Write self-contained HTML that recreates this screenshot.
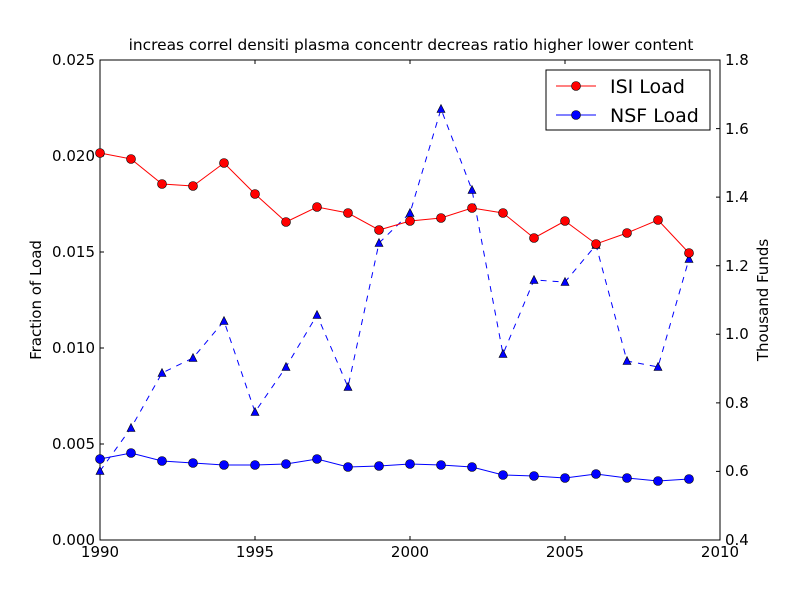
<!DOCTYPE html>
<html><head><meta charset="utf-8"><style>body{margin:0;background:#fff}svg{display:block}text{font-family:"DejaVu Sans","Liberation Sans",sans-serif}</style></head><body>
<svg width="800" height="600" xmlns="http://www.w3.org/2000/svg">
<rect width="800" height="600" fill="#fff"/>
<text x="411" y="50" font-size="15.4" text-anchor="middle">increas correl densiti plasma concentr decreas ratio higher lower content</text>
<g stroke="#000" stroke-width="1">
<rect x="100" y="60" width="620" height="480" fill="none"/>
<path d="M255,540v-4M410,540v-4M565,540v-4M255,60v4M410,60v4M565,60v4"/>
<path d="M100,444h4M100,348h4M100,252h4M100,156h4"/>
<path d="M720,471.4h-4M720,402.9h-4M720,334.3h-4M720,265.7h-4M720,197.1h-4M720,128.6h-4"/>
</g>
<g font-size="15" text-anchor="middle">
<text x="100" y="557">1990</text><text x="255" y="557">1995</text><text x="410" y="557">2000</text><text x="565" y="557">2005</text><text x="720" y="557">2010</text>
</g>
<g font-size="15" text-anchor="end">
<text x="95" y="545">0.000</text><text x="95" y="449">0.005</text><text x="95" y="353">0.010</text><text x="95" y="257">0.015</text><text x="95" y="161">0.020</text><text x="95" y="65">0.025</text>
</g>
<g font-size="15" text-anchor="start">
<text x="725" y="545">0.4</text><text x="725" y="476">0.6</text><text x="725" y="408">0.8</text><text x="725" y="339">1.0</text><text x="725" y="271">1.2</text><text x="725" y="202">1.4</text><text x="725" y="134">1.6</text><text x="725" y="65">1.8</text>
</g>
<text transform="translate(41,300) rotate(-90)" font-size="15" text-anchor="middle">Fraction of Load</text>
<text transform="translate(768,300) rotate(-90)" font-size="15" text-anchor="middle">Thousand Funds</text>

<polyline points="100,471 131,428 162,373 193,358 224,321 255,412 286,367 317,315 348,387 379,243 410,213 441,109 472,190 503,354 534,280 565,282 596,245 627,361 658,367 689,259" fill="none" stroke="blue" stroke-dasharray="6,6"/>
<polyline points="100,153 131,159 162,184 193,186 224,163 255,194 286,222 317,207 348,213 379,230 410,221 441,218 472,208 503,213 534,238 565,221 596,244 627,233 658,220 689,253" fill="none" stroke="red"/>
<polyline points="100,459 131,453 162,461 193,463 224,465 255,465 286,464 317,459 348,467 379,466 410,464 441,465 472,467 503,475 534,476 565,478 596,474 627,478 658,481 689,479" fill="none" stroke="blue"/>

<g fill="blue" stroke="#000" stroke-width="0.6">
<path d="M100,466.5l-4,8h8z"/><path d="M131,423.5l-4,8h8z"/><path d="M162,368.5l-4,8h8z"/><path d="M193,353.5l-4,8h8z"/><path d="M224,316.5l-4,8h8z"/><path d="M255,407.5l-4,8h8z"/><path d="M286,362.5l-4,8h8z"/><path d="M317,310.5l-4,8h8z"/><path d="M348,382.5l-4,8h8z"/><path d="M379,238.5l-4,8h8z"/><path d="M410,208.5l-4,8h8z"/><path d="M441,104.5l-4,8h8z"/><path d="M472,185.5l-4,8h8z"/><path d="M503,349.5l-4,8h8z"/><path d="M534,275.5l-4,8h8z"/><path d="M565,277.5l-4,8h8z"/><path d="M596,240.5l-4,8h8z"/><path d="M627,356.5l-4,8h8z"/><path d="M658,362.5l-4,8h8z"/><path d="M689,254.5l-4,8h8z"/>
</g>
<g fill="red" stroke="#000" stroke-width="0.6">
<circle cx="100" cy="153" r="4.5"/><circle cx="131" cy="159" r="4.5"/><circle cx="162" cy="184" r="4.5"/><circle cx="193" cy="186" r="4.5"/><circle cx="224" cy="163" r="4.5"/><circle cx="255" cy="194" r="4.5"/><circle cx="286" cy="222" r="4.5"/><circle cx="317" cy="207" r="4.5"/><circle cx="348" cy="213" r="4.5"/><circle cx="379" cy="230" r="4.5"/><circle cx="410" cy="221" r="4.5"/><circle cx="441" cy="218" r="4.5"/><circle cx="472" cy="208" r="4.5"/><circle cx="503" cy="213" r="4.5"/><circle cx="534" cy="238" r="4.5"/><circle cx="565" cy="221" r="4.5"/><circle cx="596" cy="244" r="4.5"/><circle cx="627" cy="233" r="4.5"/><circle cx="658" cy="220" r="4.5"/><circle cx="689" cy="253" r="4.5"/>
</g>
<g fill="blue" stroke="#000" stroke-width="0.6">
<circle cx="100" cy="459" r="4.5"/><circle cx="131" cy="453" r="4.5"/><circle cx="162" cy="461" r="4.5"/><circle cx="193" cy="463" r="4.5"/><circle cx="224" cy="465" r="4.5"/><circle cx="255" cy="465" r="4.5"/><circle cx="286" cy="464" r="4.5"/><circle cx="317" cy="459" r="4.5"/><circle cx="348" cy="467" r="4.5"/><circle cx="379" cy="466" r="4.5"/><circle cx="410" cy="464" r="4.5"/><circle cx="441" cy="465" r="4.5"/><circle cx="472" cy="467" r="4.5"/><circle cx="503" cy="475" r="4.5"/><circle cx="534" cy="476" r="4.5"/><circle cx="565" cy="478" r="4.5"/><circle cx="596" cy="474" r="4.5"/><circle cx="627" cy="478" r="4.5"/><circle cx="658" cy="481" r="4.5"/><circle cx="689" cy="479" r="4.5"/>
</g>

<rect x="546" y="70" width="164" height="60" fill="#fff" stroke="#000"/>
<line x1="556" y1="86" x2="596" y2="86" stroke="red"/><circle cx="576" cy="86" r="4.5" fill="red" stroke="#000" stroke-width="0.6"/>
<text x="610" y="93" font-size="19">ISI Load</text>
<line x1="556" y1="115" x2="596" y2="115" stroke="blue"/><circle cx="576" cy="115" r="4.5" fill="blue" stroke="#000" stroke-width="0.6"/>
<text x="610" y="122" font-size="19">NSF Load</text>
</svg>
</body></html>
